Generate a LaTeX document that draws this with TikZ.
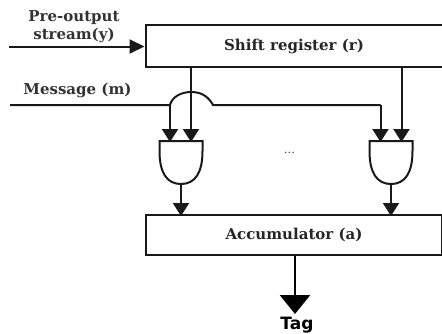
\documentclass[tikz,border=0pt]{standalone}
\usepackage{fontspec}
\setmainfont{DejaVu Serif}
\newfontfamily\tagfont{DejaVu Sans}
\usetikzlibrary{arrows.meta}
\tikzset{
  x=1pt,y=-1pt,
  wire/.style={line width=2pt,draw=black!90},
  arr/.style={wire,-{Triangle[length=13pt,width=16pt]},shorten >=-1pt},
  inarr/.style={wire,-{Triangle[length=15pt,width=14pt]}},
  bigarr/.style={line width=2.8pt,draw=black,-{Triangle[length=19pt,width=30pt]}},
  regbox/.style={draw=black!90,line width=2pt,inner sep=0pt,font=\fontsize{15}{18}\selectfont\bfseries,text=black!85},
  lbl/.style={inner sep=0pt,align=center,font=\fontsize{15}{17}\selectfont\bfseries,text=black!80},
  gatepath/.style={draw=black!90,line width=2pt}
}
\begin{document}
\begin{tikzpicture}
\useasboundingbox (0,0) rectangle (442,333);
\node[regbox,minimum width=297pt,minimum height=41.5pt] (shift) at (294,46) {Shift register (r)};
\node[regbox,minimum width=296pt,minimum height=40.5pt] (acc) at (294,235) {Accumulator (a)};
\foreach \gx/\gn in {181/a,391/b}{
  \begin{scope}[shift={(\gx,141)}]
    \draw[gatepath] (-21.5,0) -- (21.5,0) -- (21.5,10) .. controls (21.5,32) and (14,43) .. (0,43) .. controls (-14,43) and (-21.5,32) .. (-21.5,10) -- cycle;
    \coordinate (out\gn) at (0,43);
    \coordinate (to\gn) at (0,74);
  \end{scope}
}
\coordinate (in) at (9,46.5);
\coordinate (msg) at (10,105);
\coordinate (tag) at (295,314);
\coordinate (ta) at (170,141);
\coordinate (tb) at (191,141);
\coordinate (tc) at (380.5,141);
\coordinate (td) at (401.5,141);
\coordinate (sb) at (191,67);
\coordinate (sd) at (401.5,67);
\coordinate (ma) at (170,105);
\coordinate (mc) at (380.5,105);
\draw[arr] (outa) -- (toa);
\draw[arr] (outb) -- (tob);
\draw[inarr] (in) -- (shift.west |- in);
\draw[arr] (ma) -- (ta);
\draw[arr] (sb) -- (tb);
\draw[arr] (mc) -- (tc);
\draw[arr] (sd) -- (td);
\draw[wire] (msg) -- (ma) .. controls (172,97) and (181,92) .. (191,92) .. controls (201,92) and (208,96) .. (213,105) -- (mc);
\draw[bigarr] (acc.south -| tag) -- (tag);
\node[lbl] (l1) at (74,18) {Pre-output};
\node[lbl] (l1b) at (74,35) {stream(y)};
\node[lbl] (l2) at (77.5,90) {Message (m)};
\node[lbl,text=black!70,font=\fontsize{12}{14}\selectfont] (dots) at (289.5,153) {...};
\node[inner sep=0pt,font=\tagfont\fontsize{17}{20}\selectfont\bfseries] (t) at (297,325) {Tag};
\end{tikzpicture}
\end{document}
